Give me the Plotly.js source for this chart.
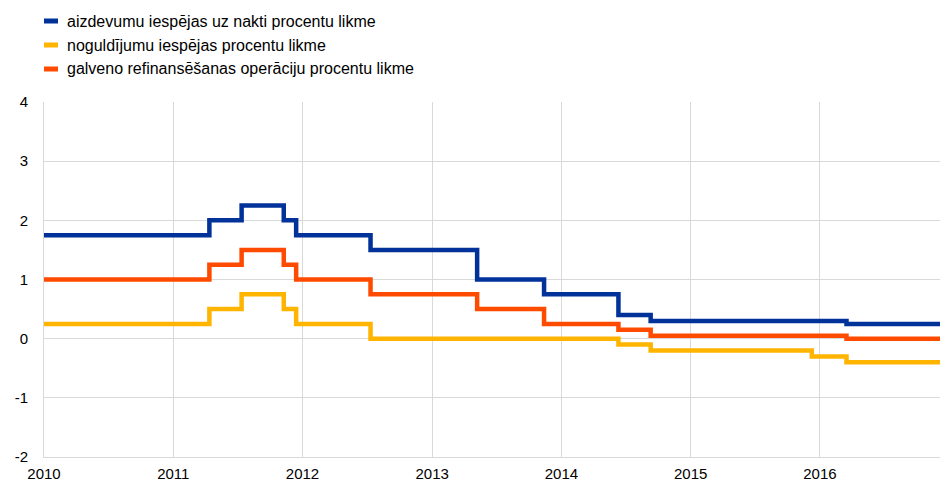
<!DOCTYPE html>
<html>
<head>
<meta charset="utf-8">
<script src="https://cdn.plot.ly/plotly-3.0.1.min.js"></script>
<style>html,body{margin:0;padding:0;background:#fff;}#chart{width:941px;height:484px;}</style>
</head>
<body>
<div id="chart"></div>
<script>
const dates = ['2010-01-01','2011-04-13','2011-07-13','2011-11-09','2011-12-14','2012-07-11','2013-05-08','2013-11-13','2014-06-11','2014-09-10','2015-12-09','2016-03-16','2016-12-31'];
const mlf = [1.75,2.00,2.25,2.00,1.75,1.50,1.00,0.75,0.40,0.30,0.30,0.25,0.25];
const df  = [0.25,0.50,0.75,0.50,0.25,0.00,0.00,0.00,-0.10,-0.20,-0.30,-0.40,-0.40];
const mro = [1.00,1.25,1.50,1.25,1.00,0.75,0.50,0.25,0.15,0.05,0.05,0.00,0.00];
const names = ['aizdevumu iespējas uz nakti procentu likme','noguldījumu iespējas procentu likme','galveno refinansēšanas operāciju procentu likme'];
const colors = ['#003299','#FFB400','#FF4B00'];
const yTicks = [-2,-1,0,1,2,3,4];
const yTickText = ['-2','-1','0','1','2','3','4'];
const series = [mlf, df, mro];
const order = [1,2,0]; // drawing order: yellow, orange, blue on top

const traces = order.map(i => ({
  x: dates, y: series[i], type: 'scatter', mode: 'lines', name: names[i],
  line: {shape: 'hv', color: colors[i], width: 4.5}, showlegend: false, hoverinfo: 'skip'
}));

const shapes = [], annotations = [];
names.forEach((n, i) => {
  const y = 21 + i*24;
  shapes.push({type:'line', xref:'paper', yref:'paper', x0: 0, x1: 14/896,
    y0: 1 + (102 - y)/355, y1: 1 + (102 - y)/355, line:{color: colors[i], width: 5}});
  annotations.push({xref:'paper', yref:'paper', x: 21/896, y: 1 + (102 - y)/355,
    xanchor:'left', yanchor:'middle', text: n, showarrow:false,
    font:{family:'Liberation Sans, Arial, sans-serif', size:16, color:'#000'}});
});

const layout = {
  width: 941, height: 484,
  margin: {l: 44, r: 1, t: 102, b: 27},
  paper_bgcolor: '#fff', plot_bgcolor: '#fff',
  font: {family: 'Liberation Sans, Arial, sans-serif', size: 15, color: '#000'},
  xaxis: {type: 'date', range: ['2010-01-01','2016-12-05'], dtick: 'M12', tick0: '2010-01-01',
    tickformat: '%Y', showgrid: true, gridcolor: '#d9d9d9', gridwidth: 1,
    showline: true, linecolor: '#d9d9d9', linewidth: 1, ticks: '', zeroline: false,
    ticklabelstandoff: 3, tickfont: {size: 15}},
  yaxis: {range: [-2, 4], tickvals: yTicks, ticktext: yTickText, showgrid: true, gridcolor: '#d9d9d9', gridwidth: 1,
    showline: true, linecolor: '#d9d9d9', linewidth: 1, zeroline: false, ticks: '',
    ticklabelstandoff: 12, tickfont: {size: 15}},
  shapes: shapes, annotations: annotations, showlegend: false
};
Plotly.newPlot('chart', traces, layout, {staticPlot: true, displayModeBar: false});
</script>
</body>
</html>
